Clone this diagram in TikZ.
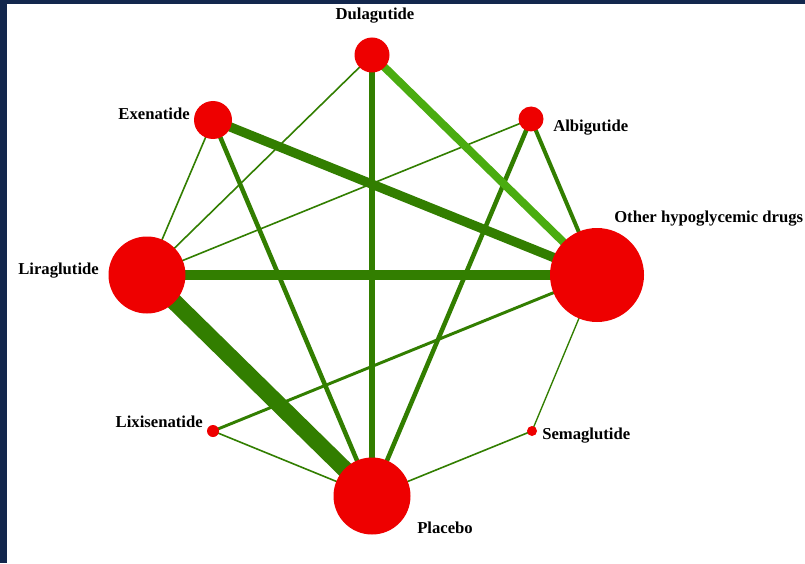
\documentclass[tikz,border=0pt]{standalone}
\usepackage{fontspec}
\setmainfont{Liberation Serif}
\usetikzlibrary{backgrounds}
\definecolor{navy}{RGB}{19,39,77}
\definecolor{nodered}{RGB}{238,0,0}
\definecolor{edgegreen}{RGB}{50,126,0}
\definecolor{lightgreen}{RGB}{74,172,16}
\tikzset{
  drug/.style={circle, fill=nodered, inner sep=0pt},
  tag/.style={font=\bfseries\fontsize{12.5}{15}\selectfont, inner sep=0pt},
}
\begin{document}
\begin{tikzpicture}[x=0.75pt, y=-0.75pt]
    \useasboundingbox (0,0) rectangle (805,563);

    %%%%%%%%%% Farmaci %%%%%%%%%%
    \node[drug, minimum size=26.25pt] (dula) at (372,55) {};
    \node[drug, minimum size=28.5pt] (exen) at (213,120) {};
    \node[drug, minimum size=18.75pt] (albi) at (531,119) {};
    \node[drug, minimum size=57.75pt] (lira) at (147,275) {};
    \node[drug, minimum size=70.5pt] (other) at (597,275) {};
    \node[drug, minimum size=9pt] (lixi) at (213,431) {};
    \node[drug, minimum size=7.5pt] (sema) at (532,431) {};
    \node[drug, minimum size=57.75pt] (plac) at (372,496) {};

    %%%%%%%%%% Etichette %%%%%%%%%%
    \node[tag] (tdula) at (375,16) {Dulagutide};
    \node[tag, anchor=east] (texen) at (190,114) {Exenatide};
    \node[tag, anchor=west] (talbi) at (553,128) {Albigutide};
    \node[tag, anchor=west] (tother) at (614,219) {Other hypoglycemic drugs};
    \node[tag, anchor=west] (tlira) at (18,271) {Liraglutide};
    \node[tag, anchor=east] (tlixi) at (203,422) {Lixisenatide};
    \node[tag, anchor=west] (tsema) at (542,436) {Semaglutide};
    \node[tag, anchor=west] (tplac) at (417,528) {Placebo};

    %%%%%%%%%% Confronti %%%%%%%%%%
    \begin{scope}[on background layer]
        \fill[navy] (0,0) rectangle (805,563);
        \fill[white] (7,4) rectangle (805,563);

        \foreach \a/\b/\w in {dula/plac/4.1, dula/lira/1.2, exen/other/7,
                exen/lira/1.2, exen/plac/3.4, albi/lira/1.2, albi/plac/3.4,
                albi/other/3, lira/other/8, lira/plac/12.5, lixi/other/2.2,
                lixi/plac/1.2, sema/plac/1.2, sema/other/1}
            \draw[edgegreen, line width=\w pt] (\a.center) -- (\b.center);

        \draw[lightgreen, line width=6pt] (dula.center) -- (other.center);
    \end{scope}
\end{tikzpicture}
\end{document}
